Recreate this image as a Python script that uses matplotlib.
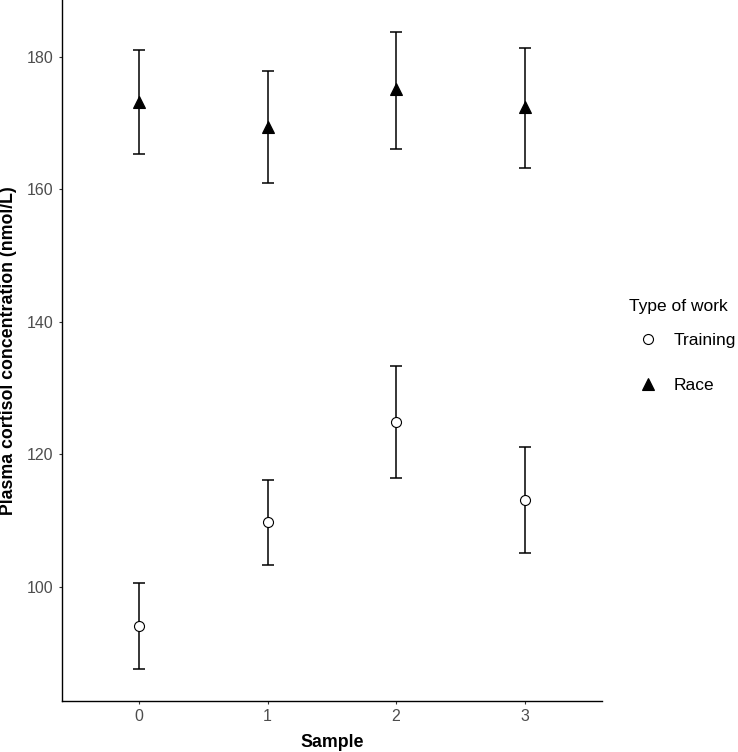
import matplotlib
matplotlib.use("Agg")
import matplotlib.pyplot as plt
from matplotlib.lines import Line2D

plt.rcParams['font.family'] = ['Liberation Sans', 'DejaVu Sans']

# Data
samples = [0, 1, 2, 3]
training_mean = [94.1, 109.8, 124.9, 113.15]
training_low = [87.6, 103.3, 116.4, 105.1]
training_high = [100.65, 116.2, 133.3, 121.2]
race_mean = [173.2, 169.4, 175.1, 172.4]
race_low = [165.3, 160.9, 166.1, 163.2]
race_high = [181.0, 177.9, 183.7, 181.4]
y_ticks = [100, 120, 140, 160, 180]
group_labels = ["Training", "Race"]

W, H = 738, 752
fig = plt.figure(figsize=(W / 100, H / 100), dpi=100)
left, right, top, bottom = 62, 601.7, 0, 701
ax = fig.add_axes([left / W, 1 - bottom / H, (right - left) / W, (bottom - top) / H])

def draw(mean, low, high, marker, mfc, ms):
    yerr = [[m - l for m, l in zip(mean, low)], [h - m for m, h in zip(mean, high)]]
    ax.errorbar(samples, mean, yerr=yerr, fmt='none', ecolor='black',
                elinewidth=1.1, capsize=4.4, capthick=1.1, zorder=2)
    ax.plot(samples, mean, linestyle='none', marker=marker, markerfacecolor=mfc,
            markeredgecolor='black', markeredgewidth=0.8, markersize=ms, zorder=3)

draw(training_mean, training_low, training_high, 'o', 'white', 7.2)
draw(race_mean, race_low, race_high, '^', 'black', 8.0)

ax.set_xlim(-0.6, 3.6)
ax.set_ylim(82.8, 188.57)
ax.set_xticks(samples)
ax.set_xticklabels([str(s) for s in samples])
ax.set_yticks(y_ticks)
ax.set_yticklabels([str(t) for t in y_ticks])

for s in ['top', 'right']:
    ax.spines[s].set_visible(False)
for s in ['left', 'bottom']:
    ax.spines[s].set_linewidth(1.0)
    ax.spines[s].set_color('black')
ax.tick_params(axis='both', length=2.4, width=0.8, color='#333333',
               labelsize=11.5, labelcolor='#4D4D4D', pad=3.6)

fig.text(331.9 / W, 1 - 742.7 / H, 'Sample', ha='center', va='center',
         fontsize=12.8, fontweight='bold')
fig.text(8.5 / W, 1 - 350.5 / H, 'Plasma cortisol concentration (nmol/L)',
         rotation=90, ha='center', va='center', fontsize=12.8, fontweight='bold')

# Legend
fig.text(629 / W, 1 - 307 / H, 'Type of work', ha='left', va='center', fontsize=12.5)
handles = [
    Line2D([], [], linestyle='none', marker='o', markerfacecolor='white',
           markeredgecolor='black', markeredgewidth=0.8, markersize=7.2),
    Line2D([], [], linestyle='none', marker='^', markerfacecolor='black',
           markeredgecolor='black', markeredgewidth=0.8, markersize=8.0),
]
leg = fig.legend(handles, group_labels, loc='upper left',
                 bbox_to_anchor=(629 / W, 1 - 333 / H), frameon=False,
                 fontsize=12.5, borderpad=0, borderaxespad=0,
                 handlelength=2.2, handletextpad=0.35, labelspacing=1.73)

fig.savefig('out.png', dpi=100)
